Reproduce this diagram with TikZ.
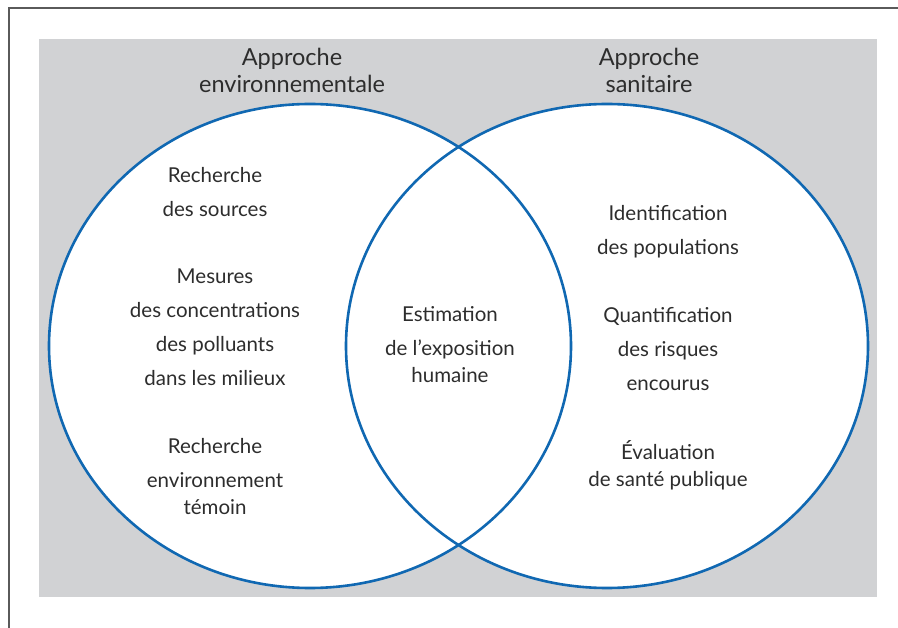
\documentclass[tikz,border=0pt]{standalone}
\usepackage{fontspec}
\setmainfont{Lato}
\usepackage{xcolor}
\definecolor{bleu}{RGB}{16,104,178}
\definecolor{fond}{RGB}{209,210,212}
\definecolor{texte}{RGB}{45,45,45}
\definecolor{cadre}{RGB}{90,90,90}

\begin{document}
\begin{tikzpicture}[x=1pt,y=-1pt,
		txt/.style={align=center, text=texte, font=\fontsize{20.5}{34}\selectfont, inner sep=0pt},
		titre/.style={txt, font=\fontsize{23.5}{27}\selectfont},
		cercle/.style={draw=bleu, line width=2.6pt}]
		\useasboundingbox (0,0) rectangle (898,628);
		\draw[cadre, line width=2pt] (8.5,628) -- (8.5,8) -- (898,8);
		\fill[fond] (39,39) rectangle (877,597);
		% the two approaches
		\fill[white] (310,346) ellipse[x radius=261, y radius=242];
		\fill[white] (607,346) ellipse[x radius=261, y radius=242];
		\draw[cercle] (310,346) ellipse[x radius=261, y radius=242];
		\draw[cercle] (607,346) ellipse[x radius=261, y radius=242];
		\node[titre] (envt) at (292,70.5) {Approche\\environnementale};
		\node[titre] (sani) at (649,70.5) {Approche\\sanitaire};
		\node[txt] (sources) at (215,192) {Recherche\\des sources};
		\node[txt] (mesures) at (215,327.5) {Mesures\\des concentrations\\des polluants\\dans les milieux};
		\node[txt] (temoin) at (215,476.5) {Recherche\\environnement\\[-7pt]témoin};
		\node[txt] (expo) at (450,344.5) {Estimation\\de l’exposition\\[-7pt]humaine};
		\node[txt] (popu) at (668,231.5) {Identification\\des populations};
		\node[txt] (risques) at (668,349.5) {Quantification\\des risques\\encourus};
		\node[txt] (evalu) at (668,465.5) {Évaluation\\[-7pt]de santé publique};
	\end{tikzpicture}
\end{document}
